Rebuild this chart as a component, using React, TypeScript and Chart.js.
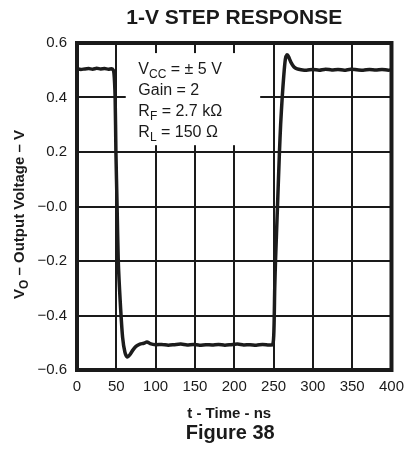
import React, { useEffect, useRef } from "react";
import { Chart, registerables } from "chart.js";

Chart.register(...registerables);

const chartTitle = "1-V STEP RESPONSE";
const xAxisTitle = "t - Time - ns";
const figureCaption = "Figure 38";
const yTickValues = [-0.6, -0.4, -0.2, 0.0, 0.2, 0.4, 0.6];
const yTickLabels = ["\u22120.6", "\u22120.4", "\u22120.2", "\u22120.0", "0.2", "0.4", "0.6"];
const xTickLabels = ["0", "50", "100", "150", "200", "250", "300", "350", "400"];

// Waveform samples (time in ns, output voltage in V)
const timeNs = [
  0, 5, 10, 15, 20, 25, 30, 35, 40, 45, 47, 48.5, 49.5, 51, 52.5, 55, 58, 61, 64, 67, 71, 75, 80,
  85, 89, 93, 100, 108, 116, 124, 132, 140, 148, 156, 164, 172, 180, 188, 196, 204, 212, 220, 228,
  236, 244, 249, 250.5, 251.5, 252.5, 255, 257.5, 259, 261, 263, 265, 267, 269, 272, 276, 280, 285,
  292, 300, 308, 316, 324, 332, 340, 348, 356, 364, 372, 380, 388, 396, 400,
];
const voltsV = [
  0.505, 0.503, 0.505, 0.506, 0.504, 0.507, 0.505, 0.506, 0.504, 0.505, 0.49, 0.4, 0.2, 0.0, -0.2,
  -0.35, -0.48, -0.535, -0.552, -0.545, -0.527, -0.513, -0.505, -0.502, -0.497, -0.503, -0.507,
  -0.506, -0.509, -0.507, -0.505, -0.508, -0.506, -0.509, -0.507, -0.508, -0.506, -0.509, -0.507,
  -0.505, -0.508, -0.507, -0.509, -0.506, -0.508, -0.507, -0.45, -0.3, -0.2, 0.0, 0.2, 0.3, 0.4,
  0.48, 0.54, 0.557, 0.55, 0.53, 0.512, 0.505, 0.502, 0.5, 0.503, 0.5, 0.504, 0.501, 0.503, 0.5,
  0.504, 0.502, 0.5, 0.503, 0.501, 0.503, 0.5, 0.502,
];

type Seg = { text: string; sub?: boolean };

function drawSegs(ctx: CanvasRenderingContext2D, segs: Seg[], x: number, y: number, size: number, weight: string, align: "left" | "center") {
  const fam = "Arial, 'Liberation Sans', sans-serif";
  const subSize = Math.round(size * 0.78);
  let total = 0;
  for (const s of segs) {
    ctx.font = `${weight} ${s.sub ? subSize : size}px ${fam}`;
    total += ctx.measureText(s.text).width;
  }
  let cx = align === "center" ? x - total / 2 : x;
  ctx.textAlign = "left";
  ctx.textBaseline = "alphabetic";
  for (const s of segs) {
    ctx.font = `${weight} ${s.sub ? subSize : size}px ${fam}`;
    ctx.fillText(s.text, cx, s.sub ? y + size * 0.28 : y);
    cx += ctx.measureText(s.text).width;
  }
}

const annotationPlugin = {
  id: "annotations",
  beforeDatasetsDraw(chart: any) {
    const ctx = chart.ctx as CanvasRenderingContext2D;
    const xs = chart.scales.x;
    const ys = chart.scales.y;
    ctx.save();
    // white legend box hiding grid lines
    const bx0 = xs.getPixelForValue(62);
    const bx1 = xs.getPixelForValue(233);
    const by0 = ys.getPixelForValue(0.563);
    const by1 = ys.getPixelForValue(0.225);
    ctx.fillStyle = "#ffffff";
    ctx.fillRect(bx0, by0, bx1 - bx0, by1 - by0);
    ctx.fillStyle = "#1a1a1a";
    const tx = xs.getPixelForValue(78);
    drawSegs(ctx, [{ text: "V" }, { text: "CC", sub: true }, { text: " = \u00B1 5 V" }], tx, ys.getPixelForValue(0.488), 16, "normal", "left");
    drawSegs(ctx, [{ text: "Gain = 2" }], tx, ys.getPixelForValue(0.41), 16, "normal", "left");
    drawSegs(ctx, [{ text: "R" }, { text: "F", sub: true }, { text: " = 2.7 k\u03A9" }], tx, ys.getPixelForValue(0.333), 16, "normal", "left");
    drawSegs(ctx, [{ text: "R" }, { text: "L", sub: true }, { text: " = 150 \u03A9" }], tx, ys.getPixelForValue(0.256), 16, "normal", "left");
    ctx.restore();
  },
  afterDraw(chart: any) {
    const ctx = chart.ctx as CanvasRenderingContext2D;
    const a = chart.chartArea;
    ctx.save();
    // frame
    ctx.strokeStyle = "#1a1a1a";
    ctx.lineWidth = 4;
    ctx.strokeRect(a.left, a.top, a.right - a.left, a.bottom - a.top);
    ctx.fillStyle = "#1a1a1a";
    const cx = (a.left + a.right) / 2;
    drawSegs(ctx, [{ text: chartTitle }], cx, 24, 21, "bold", "center");
    drawSegs(ctx, [{ text: xAxisTitle }], cx - 5, 418, 15, "bold", "center");
    drawSegs(ctx, [{ text: figureCaption }], cx - 4, 439, 20, "bold", "center");
    ctx.translate(24, (a.top + a.bottom) / 2 + 8);
    ctx.rotate(-Math.PI / 2);
    drawSegs(ctx, [{ text: "V" }, { text: "O", sub: true }, { text: " \u2013 Output Voltage \u2013 V" }], 0, 0, 15, "bold", "center");
    ctx.restore();
  },
};

export default function App() {
  const ref = useRef<HTMLCanvasElement | null>(null);
  useEffect(() => {
    if (!ref.current) return;
    const chart = new Chart(ref.current, {
      type: "line",
      data: {
        datasets: [
          {
            data: timeNs.map((t, i) => ({ x: t, y: voltsV[i] })),
            borderColor: "#1c1c1c",
            borderWidth: 3.5,
            pointRadius: 0,
            tension: 0.25,
            fill: false,
          },
        ],
      },
      options: {
        responsive: false,
        animation: false,
        maintainAspectRatio: false,
        layout: { padding: { top: 43, right: 12, left: 0, bottom: 0 } },
        plugins: { legend: { display: false }, tooltip: { enabled: false }, title: { display: false } },
        scales: {
          x: {
            type: "linear",
            min: 0,
            max: 400,
            afterBuildTicks: (scale: any) => {
              scale.ticks = xTickLabels.map((l) => ({ value: Number(l) }));
            },
            afterFit: (scale: any) => {
              scale.height = 79;
            },
            ticks: {
              callback: (v: any, i: number) => xTickLabels[i],
              font: { family: "Arial, 'Liberation Sans', sans-serif", size: 15 },
              color: "#1a1a1a",
              padding: 8,
              maxRotation: 0,
              autoSkip: false,
            },
            grid: { color: "#1a1a1a", lineWidth: 2, drawTicks: false },
            border: { display: false },
          },
          y: {
            type: "linear",
            min: -0.6,
            max: 0.6,
            afterBuildTicks: (scale: any) => {
              scale.ticks = yTickValues.map((v) => ({ value: v }));
            },
            afterFit: (scale: any) => {
              scale.width = 77;
            },
            ticks: {
              callback: (v: any, i: number) => yTickLabels[i],
              font: { family: "Arial, 'Liberation Sans', sans-serif", size: 15 },
              color: "#1a1a1a",
              padding: 10,
              autoSkip: false,
            },
            grid: { color: "#1a1a1a", lineWidth: 2, drawTicks: false },
            border: { display: false },
          },
        },
      },
      plugins: [annotationPlugin],
    });
    return () => chart.destroy();
  }, []);
  return (
    <div style={{ position: "absolute", left: 0, top: 0, width: 412, height: 449, background: "#fff" }}>
      <canvas ref={ref} width={412} height={449} style={{ width: 412, height: 449, display: "block" }} />
    </div>
  );
}
